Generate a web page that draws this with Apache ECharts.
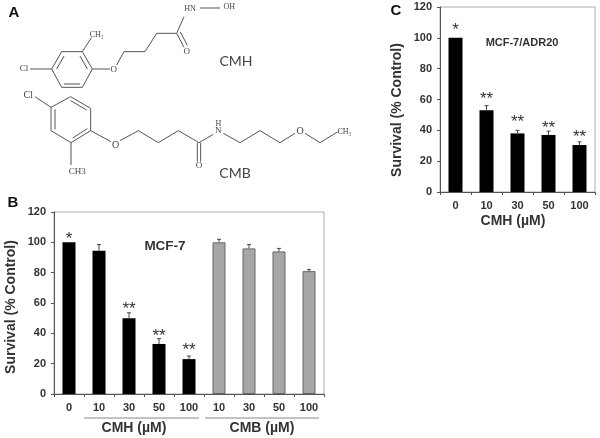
<!DOCTYPE html>
<html>
<head>
<meta charset="utf-8">
<style>
  html, body { margin: 0; padding: 0; background: #fff; }
  #chart { width: 600px; height: 438px; filter: blur(0.35px); }
</style>
<script src="https://cdn.jsdelivr.net/npm/echarts@6/dist/echarts.min.js"></script>
</head>
<body>
<div id="chart"></div>
<script>
// panel B
const doseB = ['0', '10', '30', '50', '100', '10', '30', '50', '100']
const survivalB = [100, 94.5, 50, 33, 23, 100, 96, 94, 81]
const errorB = [0, 4, 3.5, 3.5, 2, 2, 2.5, 2, 1]
const starsB = ['*', '', '**', '**', '**', '', '', '', '']
const starPosB = [104, 0, 58, 40, 31, 0, 0, 0, 0]
const firstGrayB = 5

// panel C
const doseC = ['0', '10', '30', '50', '100']
const survivalC = [100, 53, 38, 37, 30.5]
const errorC = [0, 3, 2, 2.5, 2]
const starsC = ['*', '**', '**', '**', '**']
const starPosC = [107, 62, 47, 43.5, 37.5]

const font = '"Liberation Sans", Arial, sans-serif'
const textColor = '#333'
const bondColor = '#555'

const chart = echarts.init(document.getElementById('chart'))

function bond(points, width) {
  return {
    type: 'polyline',
    silent: true,
    shape: { points: points.map(p => [p[0] / 3, p[1] / 3]) },
    style: { stroke: bondColor, lineWidth: width || 1, fill: null }
  }
}

function atom(label, x, y, size) {
  return {
    type: 'text',
    silent: true,
    x: x / 3,
    y: y / 3,
    style: {
      text: label,
      fill: '#444',
      font: (size || 9) + 'px "Liberation Serif", serif',
      align: 'center',
      verticalAlign: 'middle'
    }
  }
}

function caption(label, x, y, size, weight, family, color, rotation) {
  return {
    type: 'text',
    silent: true,
    x,
    y,
    rotation: rotation || 0,
    style: {
      text: label,
      fill: color || textColor,
      font: (weight || 'normal') + ' ' + size + 'px ' + (family || font),
      align: 'center',
      verticalAlign: 'middle'
    }
  }
}

const molecules = [
  // CMH
  bond([[155, 207], [185, 155], [247, 155], [277, 207], [247, 262], [185, 262], [155, 207]]),
  bond([[170, 207], [192, 168]]),
  bond([[240, 168], [262, 207]]),
  bond([[192, 252], [240, 252]]),
  bond([[90, 207], [155, 207]]),
  bond([[247, 155], [275, 112]]),
  bond([[277, 207], [330, 207]]),
  bond([[350, 195], [372, 155], [435, 155], [470, 100], [530, 100], [552, 50]]),
  bond([[530, 100], [552, 142]]),
  bond([[541, 96], [562, 136]]),
  bond([[600, 24], [660, 24]]),
  atom('Cl', 72, 206, 9),
  atom('CH₃', 290, 104, 8),
  atom('O', 341, 209, 9),
  atom('O', 560, 156, 9),
  atom('HN', 570, 26, 8),
  atom('OH', 688, 20, 8),
  // CMB
  bond([[153, 322], [212, 290], [272, 325], [272, 392], [213, 428], [153, 392], [153, 322]]),
  bond([[212, 302], [260, 330]]),
  bond([[165, 388], [165, 328]]),
  bond([[218, 414], [262, 386]]),
  bond([[105, 290], [153, 322]]),
  bond([[213, 428], [213, 495]]),
  bond([[272, 392], [333, 425]]),
  bond([[360, 422], [415, 392], [475, 428], [535, 392], [597, 428], [640, 403]]),
  bond([[592, 428], [592, 485]]),
  bond([[602, 428], [602, 485]]),
  bond([[670, 400], [720, 428], [780, 392], [840, 428], [885, 400]]),
  bond([[915, 400], [960, 428], [1012, 396]]),
  atom('Cl', 85, 287, 10),
  atom('CH3', 232, 516, 9),
  atom('O', 347, 435, 10),
  atom('H', 655, 372, 8),
  atom('N', 655, 392, 9),
  atom('O', 597, 498, 9),
  atom('O', 900, 393, 10),
  atom('CH₃', 1033, 395, 8)
]

const decorations = [
  caption('A', 14, 13, 15, 'bold', font, '#111'),
  caption('B', 13, 203, 15, 'bold', font, '#111'),
  caption('C', 396, 11, 15, 'bold', font, '#111'),
  caption('CMH', 236, 61, 14, 'normal', 'Lato, sans-serif', '#444'),
  caption('CMB', 235, 173, 14, 'normal', 'Lato, sans-serif', '#444'),
  caption('MCF-7', 165, 246, 13.5, 'bold'),
  caption('MCF-7/ADR20', 522, 43, 11, 'bold'),
  caption('CMH (µM)', 134, 428, 14, 'bold'),
  caption('CMB (µM)', 262, 428, 14, 'bold'),
  caption('CMH (µM)', 513, 221, 14, 'bold'),
  caption('Survival (% Control)', 11, 307, 14, 'bold', font, textColor, Math.PI / 2),
  caption('Survival (% Control)', 397, 110, 14, 'bold', font, textColor, Math.PI / 2),
  {
    type: 'line',
    silent: true,
    shape: { x1: 84, y1: 418, x2: 199, y2: 418 },
    style: { stroke: '#888', lineWidth: 1 }
  },
  {
    type: 'line',
    silent: true,
    shape: { x1: 205, y1: 418, x2: 319, y2: 418 },
    style: { stroke: '#888', lineWidth: 1 }
  }
]

function errorBars(values, errors, index) {
  return {
    type: 'custom',
    xAxisIndex: index,
    yAxisIndex: index,
    silent: true,
    z: 3,
    data: values.map((v, i) => [i, v, v + errors[i]]),
    renderItem(params, api) {
      if (api.value(2) === api.value(1)) {
        return null
      }
      const base = api.coord([api.value(0), api.value(1)])
      const top = api.coord([api.value(0), api.value(2)])
      const style = { stroke: '#444', lineWidth: 1 }
      return {
        type: 'group',
        children: [
          { type: 'line', shape: { x1: base[0], y1: base[1], x2: top[0], y2: top[1] }, style },
          { type: 'line', shape: { x1: top[0] - 2, y1: top[1], x2: top[0] + 2, y2: top[1] }, style }
        ]
      }
    }
  }
}

function starMarks(positions, labels, index) {
  return {
    type: 'custom',
    xAxisIndex: index,
    yAxisIndex: index,
    silent: true,
    z: 4,
    data: positions.map((v, i) => [i, v]),
    renderItem(params, api) {
      const label = labels[params.dataIndex]
      if (!label) {
        return null
      }
      const at = api.coord([api.value(0), api.value(1)])
      return {
        type: 'text',
        x: at[0],
        y: at[1] + 3,
        style: {
          text: label,
          fill: '#333',
          font: '17px ' + font,
          align: 'center',
          verticalAlign: 'middle'
        }
      }
    }
  }
}

function xAxis(data, index) {
  return {
    type: 'category',
    gridIndex: index,
    data,
    axisLine: { lineStyle: { color: '#555', width: 1 } },
    axisTick: { show: true, length: 3, lineStyle: { color: '#555' } },
    axisLabel: { interval: 0, fontFamily: font, fontSize: 11, fontWeight: 'bold', color: textColor, margin: 8 }
  }
}

function yAxis(index) {
  return {
    type: 'value',
    gridIndex: index,
    min: 0,
    max: 120,
    interval: 20,
    splitLine: { show: false },
    axisLine: { show: true, lineStyle: { color: '#555', width: 1 } },
    axisTick: { show: true, length: 3, lineStyle: { color: '#555' } },
    axisLabel: { fontFamily: font, fontSize: 11, fontWeight: 'bold', color: textColor, margin: 8 }
  }
}

chart.setOption({
  animation: false,
  backgroundColor: '#fff',
  grid: [
    { left: 54, top: 212, width: 270, height: 182, show: true, borderColor: '#aaa', borderWidth: 1 },
    { left: 440, top: 7, width: 155, height: 185, show: true, borderColor: '#aaa', borderWidth: 1 }
  ],
  xAxis: [xAxis(doseB, 0), xAxis(doseC, 1)],
  yAxis: [yAxis(0), yAxis(1)],
  series: [
    {
      type: 'bar',
      xAxisIndex: 0,
      yAxisIndex: 0,
      barWidth: 13,
      data: survivalB.map((v, i) => ({
        value: v,
        itemStyle: i < firstGrayB
          ? { color: '#000' }
          : { color: '#a6a6a6', borderColor: '#666', borderWidth: 1 }
      }))
    },
    {
      type: 'bar',
      xAxisIndex: 1,
      yAxisIndex: 1,
      barWidth: 14,
      itemStyle: { color: '#000' },
      data: survivalC
    },
    errorBars(survivalB, errorB, 0),
    errorBars(survivalC, errorC, 1),
    starMarks(starPosB, starsB, 0),
    starMarks(starPosC, starsC, 1)
  ],
  graphic: molecules.concat(decorations)
})
</script>
</body>
</html>
